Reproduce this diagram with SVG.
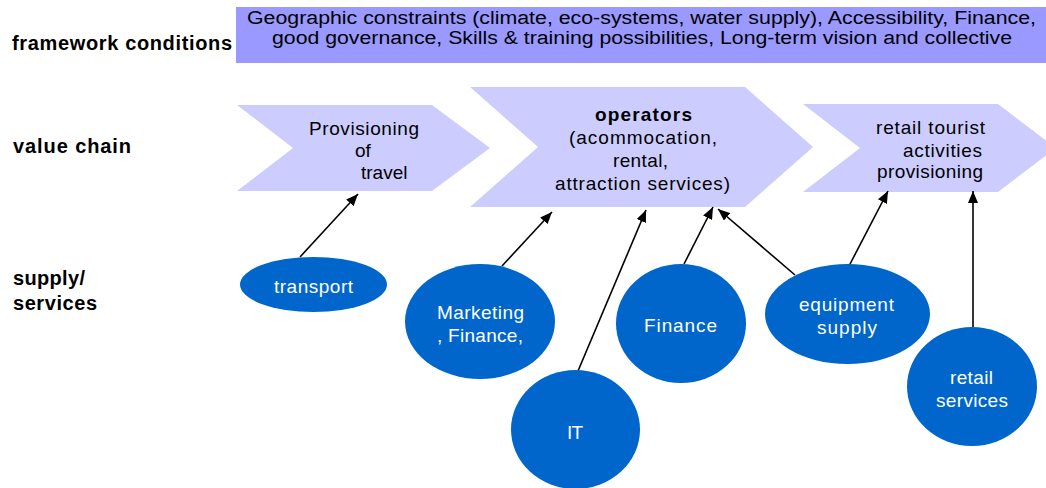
<svg xmlns="http://www.w3.org/2000/svg" width="1046" height="488" viewBox="0 0 1046 488">
<style>
  .lbl { font-family: "Liberation Sans", Arial, sans-serif; font-weight: bold; font-size: 20px; fill: #000; }
  .hdr { font-family: "Liberation Sans", Arial, sans-serif; font-size: 18px; fill: #000; }
  .chv { fill: #CCCCFF; }
  .ctx { font-family: "Liberation Sans", Arial, sans-serif; font-size: 19px; fill: #000; }
  .ell { fill: #0066CC; }
  .etx { font-family: "Liberation Sans", Arial, sans-serif; font-size: 19px; fill: #FFFFFF; }
  .arr { stroke: #000; stroke-width: 1.6; fill: none; marker-end: url(#ah); }
</style>
<defs>
  <marker id="ah" viewBox="0 0 12 10" refX="12" refY="5" markerWidth="12" markerHeight="10" markerUnits="userSpaceOnUse" orient="auto">
    <path d="M0,0 L12,5 L0,10 z" fill="#000"/>
  </marker>
</defs>
<rect width="1046" height="488" fill="#FFFFFF"/>

<g id="row-labels">
  <text class="lbl" x="12" y="50" textLength="220" lengthAdjust="spacing">framework conditions</text>
  <text class="lbl" x="13" y="153" textLength="118" lengthAdjust="spacing">value chain</text>
  <text class="lbl" x="13" y="285" textLength="72" lengthAdjust="spacing">supply/</text>
  <text class="lbl" x="13" y="310" textLength="84" lengthAdjust="spacing">services</text>
</g>

<g id="framework">
  <rect x="236" y="7" width="812" height="56" fill="#9999FF"/>
  <text class="hdr" x="247" y="24" textLength="789" lengthAdjust="spacingAndGlyphs">Geographic  constraints (climate, eco-systems, water supply), Accessibility, Finance,</text>
  <text class="hdr" x="272" y="44" textLength="740" lengthAdjust="spacingAndGlyphs">good governance,  Skills &amp; training possibilities, Long-term  vision  and  collective</text>
</g>

<g id="chain-travel">
  <polygon class="chv" points="237,105 432,105 490,148 432,191 237,191 293,148"/>
  <text class="ctx" x="309" y="135" textLength="110" lengthAdjust="spacing">Provisioning</text>
  <text class="ctx" x="355" y="157">of</text>
  <text class="ctx" x="361" y="179">travel</text>
</g>

<g id="chain-operators">
  <polygon class="chv" points="470,87 745,87 813,147 745,207 470,207 538,147"/>
  <text class="ctx" x="595" y="121" textLength="97" lengthAdjust="spacing" font-weight="bold">operators</text>
  <text class="ctx" x="569" y="144" textLength="148" lengthAdjust="spacing">(acommocation,</text>
  <text class="ctx" x="613" y="167" textLength="55" lengthAdjust="spacing">rental,</text>
  <text class="ctx" x="555" y="190" textLength="175" lengthAdjust="spacing">attraction  services)</text>
</g>

<g id="chain-retail">
  <polygon class="chv" points="803,104 998,104 1056,148 998,192 803,192 860,148"/>
  <text class="ctx" x="876" y="134" textLength="109" lengthAdjust="spacing">retail  tourist</text>
  <text class="ctx" x="903" y="157" textLength="79" lengthAdjust="spacing">activities</text>
  <text class="ctx" x="877" y="178" textLength="106" lengthAdjust="spacing">provisioning</text>
</g>

<g id="connectors">
  <line class="arr" x1="300" y1="257" x2="358" y2="194"/>
  <line class="arr" x1="502" y1="266" x2="552" y2="212"/>
  <line class="arr" x1="578" y1="371" x2="646" y2="210"/>
  <line class="arr" x1="684" y1="264" x2="713" y2="207"/>
  <line class="arr" x1="795" y1="275" x2="718" y2="209"/>
  <line class="arr" x1="849" y1="266" x2="888" y2="191"/>
  <line class="arr" x1="973" y1="327" x2="973" y2="191"/>
</g>

<g id="node-transport">
  <ellipse class="ell" cx="313.5" cy="284.5" rx="73.5" ry="27.5"/>
  <text class="etx" x="274" y="293" textLength="79" lengthAdjust="spacing">transport</text>
</g>
<g id="node-marketing">
  <ellipse class="ell" cx="480" cy="321.5" rx="75" ry="57.5"/>
  <text class="etx" x="437" y="319" textLength="87" lengthAdjust="spacing">Marketing</text>
  <text class="etx" x="437" y="342" textLength="86" lengthAdjust="spacing">, Finance,</text>
</g>
<g id="node-it">
  <ellipse class="ell" cx="575.5" cy="429.5" rx="64.5" ry="59.5"/>
  <text class="etx" x="567" y="439" textLength="16" lengthAdjust="spacing">IT</text>
</g>
<g id="node-finance">
  <ellipse class="ell" cx="681" cy="323.5" rx="65" ry="59.5"/>
  <text class="etx" x="644" y="332" textLength="73" lengthAdjust="spacing">Finance</text>
</g>
<g id="node-equipment">
  <ellipse class="ell" cx="847.5" cy="314" rx="82.5" ry="50"/>
  <text class="etx" x="799" y="311" textLength="95" lengthAdjust="spacing">equipment</text>
  <text class="etx" x="817" y="334" textLength="60" lengthAdjust="spacing">supply</text>
</g>
<g id="node-retail">
  <ellipse class="ell" cx="972" cy="386.5" rx="65" ry="59.5"/>
  <text class="etx" x="950" y="384" textLength="43" lengthAdjust="spacing">retail</text>
  <text class="etx" x="936" y="407" textLength="72" lengthAdjust="spacing">services</text>
</g>
</svg>
